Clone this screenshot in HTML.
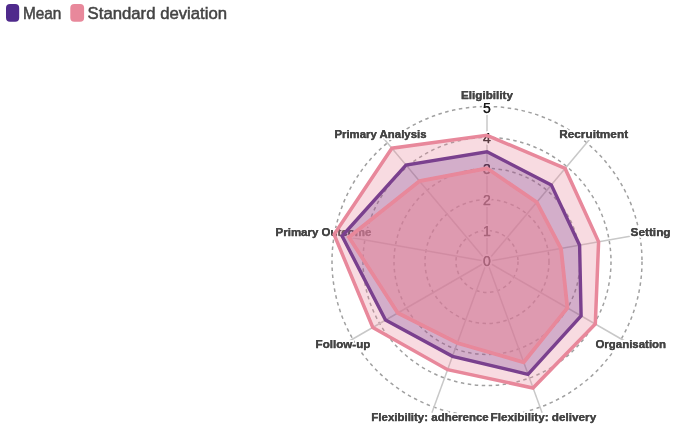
<!DOCTYPE html>
<html><head><meta charset="utf-8"><style>
html,body{margin:0;padding:0;background:#fff;}
body{width:685px;height:435px;overflow:hidden;}
svg{display:block;font-family:"Liberation Sans",sans-serif;will-change:transform;}
.tick{font-size:14px;fill:#1a1a1a;text-anchor:middle;}
.tick.halo{stroke:#fff;stroke-width:4px;paint-order:stroke;stroke-linejoin:round;}
.tick.ink{stroke:#1a1a1a;stroke-width:0.25px;}
.lab{font-size:11.7px;font-weight:bold;fill:#444;text-anchor:middle;}
.lab.halo{stroke:#fff;stroke-width:4px;paint-order:stroke;stroke-linejoin:round;}
.lab.ink{stroke:#444;stroke-width:0.25px;}
.leg{font-size:16.3px;fill:#444;stroke:#444;stroke-width:0.5px;}
</style></head><body>
<svg width="685" height="435" viewBox="0 0 685 435">
<rect x="6" y="4" width="13.2" height="17.8" rx="4" fill="#4f2a8c"/>
<text x="23.0" y="19.4" class="leg" textLength="38.4" lengthAdjust="spacingAndGlyphs">Mean</text>
<rect x="70.3" y="4" width="13.8" height="17.8" rx="4" fill="#e8889b"/>
<text x="87.6" y="19.4" class="leg" textLength="139.5" lengthAdjust="spacingAndGlyphs">Standard deviation</text>
<circle cx="487" cy="261.5" r="31" fill="none" stroke="#a0a0a0" stroke-width="1.5" stroke-dasharray="3.5 3.518"/>
<circle cx="487" cy="261.5" r="62" fill="none" stroke="#a0a0a0" stroke-width="1.5" stroke-dasharray="3.5 3.518"/>
<circle cx="487" cy="261.5" r="93" fill="none" stroke="#a0a0a0" stroke-width="1.5" stroke-dasharray="3.5 3.518"/>
<circle cx="487" cy="261.5" r="124" fill="none" stroke="#a0a0a0" stroke-width="1.5" stroke-dasharray="3.5 3.518"/>
<circle cx="487" cy="261.5" r="155" fill="none" stroke="#a0a0a0" stroke-width="1.5" stroke-dasharray="3.5 3.518"/>
<line x1="487" y1="261.5" x2="487.0" y2="100.5" stroke="#c8c8c8" stroke-width="1.5"/>
<line x1="487" y1="261.5" x2="590.5" y2="138.2" stroke="#c8c8c8" stroke-width="1.5"/>
<line x1="487" y1="261.5" x2="645.6" y2="233.5" stroke="#c8c8c8" stroke-width="1.5"/>
<line x1="487" y1="261.5" x2="626.4" y2="342.0" stroke="#c8c8c8" stroke-width="1.5"/>
<line x1="487" y1="261.5" x2="542.1" y2="412.8" stroke="#c8c8c8" stroke-width="1.5"/>
<line x1="487" y1="261.5" x2="431.9" y2="412.8" stroke="#c8c8c8" stroke-width="1.5"/>
<line x1="487" y1="261.5" x2="347.6" y2="342.0" stroke="#c8c8c8" stroke-width="1.5"/>
<line x1="487" y1="261.5" x2="328.4" y2="233.5" stroke="#c8c8c8" stroke-width="1.5"/>
<line x1="487" y1="261.5" x2="383.5" y2="138.2" stroke="#c8c8c8" stroke-width="1.5"/>
<g class="tick halo"><text x="487" y="266.30">0</text>
<text x="487" y="235.54">1</text>
<text x="487" y="204.78">2</text>
<text x="487" y="174.02">3</text>
<text x="487" y="143.26">4</text>
<text x="487" y="112.50">5</text>
</g><g class="tick ink"><text x="487" y="266.30">0</text>
<text x="487" y="235.54">1</text>
<text x="487" y="204.78">2</text>
<text x="487" y="174.02">3</text>
<text x="487" y="143.26">4</text>
<text x="487" y="112.50">5</text>
</g><g class="lab halo"><text x="486.95" y="98.70" textLength="51.90" lengthAdjust="spacingAndGlyphs">Eligibility</text>
<text x="593.65" y="138.00" textLength="68.90" lengthAdjust="spacingAndGlyphs">Recruitment</text>
<text x="650.55" y="236.00" textLength="40.10" lengthAdjust="spacingAndGlyphs">Setting</text>
<text x="630.75" y="348.20" textLength="70.70" lengthAdjust="spacingAndGlyphs">Organisation</text>
<text x="543.40" y="421.30" textLength="105.60" lengthAdjust="spacingAndGlyphs">Flexibility: delivery</text>
<text x="430.00" y="421.20" textLength="117.40" lengthAdjust="spacingAndGlyphs">Flexibility: adherence</text>
<text x="343.00" y="347.60" textLength="54.80" lengthAdjust="spacingAndGlyphs">Follow-up</text>
<text x="323.45" y="235.70" textLength="95.70" lengthAdjust="spacingAndGlyphs">Primary Outcome</text>
<text x="380.45" y="137.90" textLength="92.10" lengthAdjust="spacingAndGlyphs">Primary Analysis</text>
</g>
<g class="lab ink"><text x="486.95" y="98.70" textLength="51.90" lengthAdjust="spacingAndGlyphs">Eligibility</text>
<text x="593.65" y="138.00" textLength="68.90" lengthAdjust="spacingAndGlyphs">Recruitment</text>
<text x="650.55" y="236.00" textLength="40.10" lengthAdjust="spacingAndGlyphs">Setting</text>
<text x="630.75" y="348.20" textLength="70.70" lengthAdjust="spacingAndGlyphs">Organisation</text>
<text x="543.40" y="421.30" textLength="105.60" lengthAdjust="spacingAndGlyphs">Flexibility: delivery</text>
<text x="430.00" y="421.20" textLength="117.40" lengthAdjust="spacingAndGlyphs">Flexibility: adherence</text>
<text x="343.00" y="347.60" textLength="54.80" lengthAdjust="spacingAndGlyphs">Follow-up</text>
<text x="323.45" y="235.70" textLength="95.70" lengthAdjust="spacingAndGlyphs">Primary Outcome</text>
<text x="380.45" y="137.90" textLength="92.10" lengthAdjust="spacingAndGlyphs">Primary Analysis</text>
</g>

<polygon points="487.0,135.3 565.1,168.4 598.6,241.8 595.3,324.0 533.0,388.0 447.6,369.7 372.8,327.5 334.1,234.5 391.9,148.2" fill="rgba(232,137,155,0.3)" stroke="#e8889b" stroke-width="3.5" stroke-linejoin="miter"/>
<polygon points="487.0,151.7 551.3,184.9 579.6,245.2 581.1,315.8 528.0,374.3 452.5,356.3 385.5,320.1 342.1,236.0 406.0,165.0" fill="rgba(100,40,130,0.25)" stroke="#7a408e" stroke-width="3.4" stroke-linejoin="miter"/>
<polygon points="487.0,168.3 536.8,202.2 561.0,248.5 567.4,307.9 523.7,362.3 457.3,343.0 397.8,313.0 348.9,237.2 419.6,181.1" fill="rgba(232,137,155,0.55)" stroke="#e8889b" stroke-width="3.8" stroke-linejoin="miter"/>
</svg>
</body></html>
